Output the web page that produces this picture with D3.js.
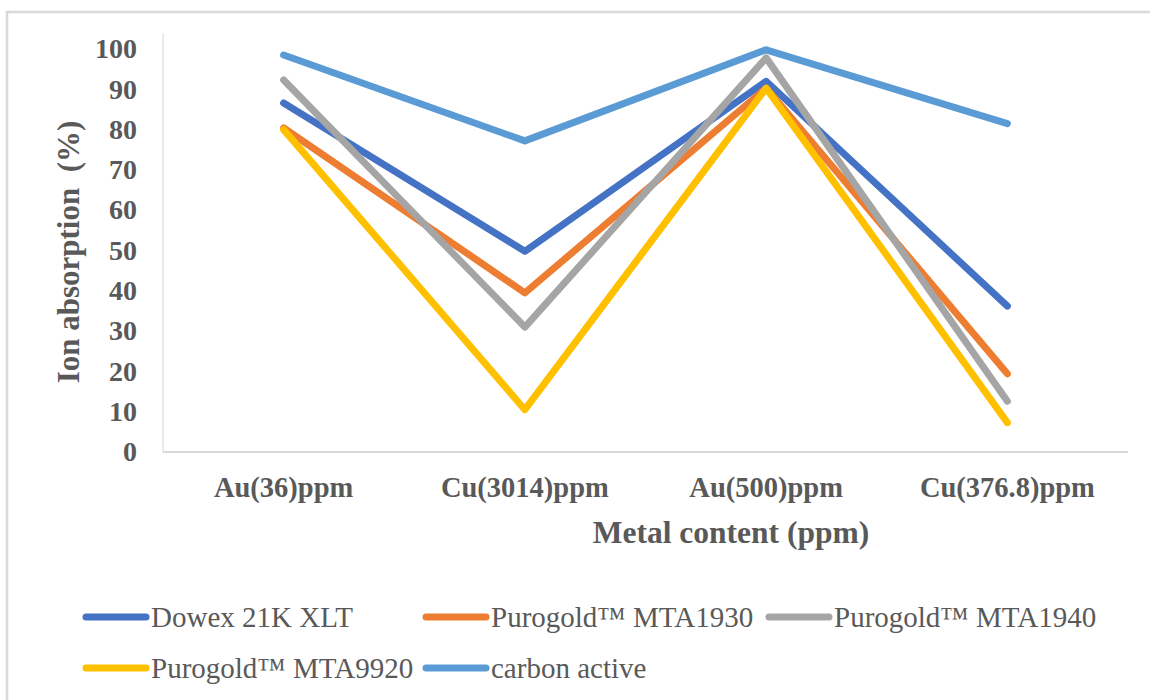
<!DOCTYPE html>
<html>
<head>
<meta charset="utf-8">
<script src="https://cdn.jsdelivr.net/npm/d3@7"></script>
<style>
    body { margin: 0; background: #fff; }
    svg { display: block; font-family: 'Liberation Serif', 'Times New Roman', serif; }
</style>
</head>
<body>
<svg id="chart"></svg>
<script>
// Categories and series values (Ion absorption, %).
const categories = ['Au(36)ppm', 'Cu(3014)ppm', 'Au(500)ppm', 'Cu(376.8)ppm'];
const seriesNames = ['Dowex 21K XLT', 'Purogold™ MTA1930', 'Purogold™ MTA1940', 'Purogold™ MTA9920', 'carbon active'];
const dowex = [86.6, 49.8, 92, 36.2];
const mta1930 = [80.4, 39.5, 90.3, 19.4];
const mta1940 = [92.3, 31, 97.8, 12.6];
const mta9920 = [80, 10.5, 90.3, 7.3];
const carbon = [98.5, 77.2, 99.8, 81.5];
const yTicks = [0, 10, 20, 30, 40, 50, 60, 70, 80, 90, 100];
const colors = ['#4472C4', '#ED7D31', '#A5A5A5', '#FFC000', '#5B9BD5'];

const series = [dowex, mta1930, mta1940, mta9920, carbon].map((values, i) => ({
    name: seriesNames[i],
    color: colors[i],
    values,
}));

// Chart dimensions.
const width = 1150, height = 700;
const marginLeft = 163, marginRight = 22, plotTop = 33, plotBottom = 452;

const svg = d3.select('#chart').attr('width', width).attr('height', height);

// Outer chart border.
svg.append('rect')
    .attr('x', 7).attr('y', 12)
    .attr('width', width + 20).attr('height', height + 20)
    .attr('fill', 'none')
    .attr('stroke', '#d9d9d9')
    .attr('stroke-width', 2.5);

// X scale.
const x = d3.scaleBand()
    .domain(categories)
    .range([marginLeft, width - marginRight]);

// Y scale.
const y = d3.scaleLinear()
    .domain([0, 100])
    .range([plotBottom, plotBottom - 403]);

// Axis lines.
svg.append('line')
    .attr('x1', marginLeft).attr('x2', marginLeft)
    .attr('y1', plotTop).attr('y2', plotBottom)
    .attr('stroke', '#e3e3e3').attr('stroke-width', 1.5);

svg.append('line')
    .attr('x1', marginLeft).attr('x2', width - marginRight)
    .attr('y1', plotBottom).attr('y2', plotBottom)
    .attr('stroke', '#d9d9d9').attr('stroke-width', 2);

// Y tick labels.
svg.append('g')
    .selectAll('text')
    .data(yTicks)
    .join('text')
    .attr('x', 137)
    .attr('y', d => y(d))
    .attr('dy', '0.33em')
    .attr('text-anchor', 'end')
    .attr('font-size', 28)
    .attr('font-weight', 'bold')
    .attr('fill', '#595959')
    .text(d => d);

// X tick labels.
svg.append('g')
    .selectAll('text')
    .data(categories)
    .join('text')
    .attr('x', d => x(d) + x.bandwidth() / 2)
    .attr('y', 497)
    .attr('text-anchor', 'middle')
    .attr('font-size', 28.5)
    .attr('font-weight', 'bold')
    .attr('fill', '#595959')
    .text(d => d);

// Axis titles.
svg.append('text')
    .attr('x', 731).attr('y', 543)
    .attr('text-anchor', 'middle')
    .attr('font-size', 31.5)
    .attr('font-weight', 'bold')
    .attr('fill', '#595959')
    .text('Metal content (ppm)');

svg.append('text')
    .attr('transform', 'translate(79, 252) rotate(-90)')
    .attr('text-anchor', 'middle')
    .attr('font-size', 31)
    .attr('font-weight', 'bold')
    .attr('fill', '#595959')
    .attr('xml:space', 'preserve')
    .text('Ion absorption  (%)');

// Lines.
const line = d3.line()
    .x((d, i) => x(categories[i]) + x.bandwidth() / 2)
    .y(d => y(d));

svg.append('g')
    .selectAll('path')
    .data(series)
    .join('path')
    .attr('d', d => line(d.values))
    .attr('fill', 'none')
    .attr('stroke', d => d.color)
    .attr('stroke-width', 7)
    .attr('stroke-linecap', 'round')
    .attr('stroke-linejoin', 'round');

// Legend.
const legendPos = [
    { x: 83, y: 617 },
    { x: 423, y: 617 },
    { x: 766, y: 617 },
    { x: 83, y: 668 },
    { x: 423, y: 668 },
];

const legend = svg.append('g')
    .selectAll('g')
    .data(series)
    .join('g')
    .attr('transform', (d, i) => `translate(${legendPos[i].x}, ${legendPos[i].y})`);

legend.append('line')
    .attr('x1', 3).attr('x2', 63)
    .attr('stroke', d => d.color)
    .attr('stroke-width', 7)
    .attr('stroke-linecap', 'round');

legend.append('text')
    .attr('x', 68)
    .attr('dy', '0.33em')
    .attr('font-size', 29)
    .attr('fill', '#595959')
    .text(d => d.name);
</script>
</body>
</html>
